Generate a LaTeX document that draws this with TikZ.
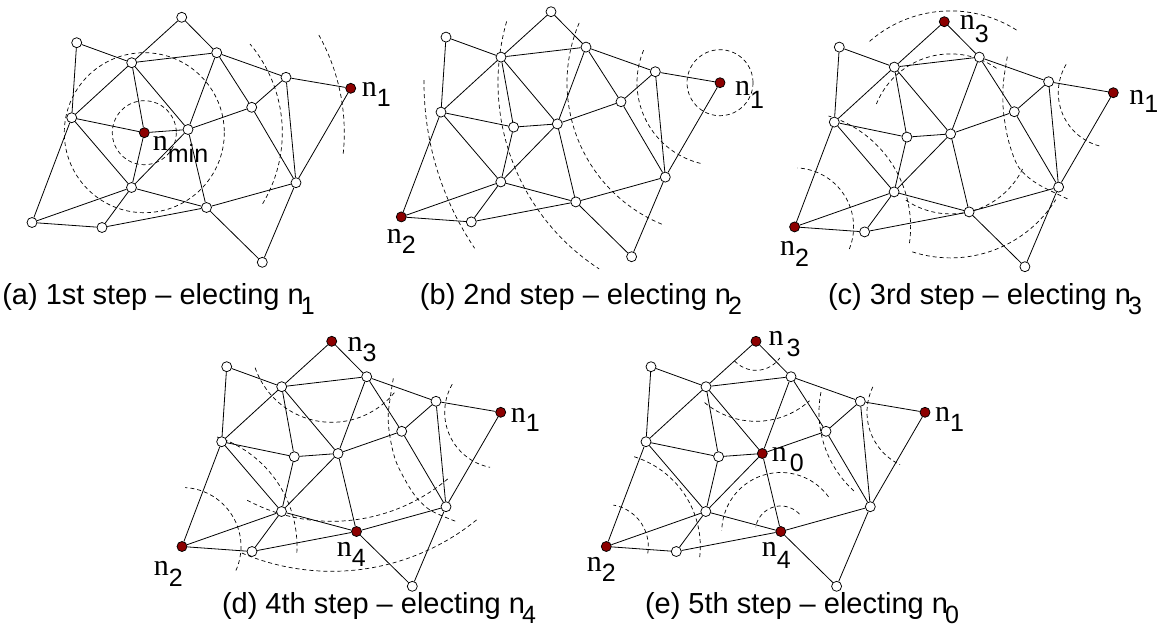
\documentclass[tikz,border=0pt]{standalone}
\usepackage{fontspec}
\newfontfamily\lserif{Liberation Serif}
\newfontfamily\lsans{Liberation Sans}
\definecolor{nred}{RGB}{140,0,0}
\tikzset{
 wn/.style={circle,draw=black,fill=white,line width=0.75pt,inner sep=0pt,minimum size=10pt},
 rn/.style={fill=nred,minimum size=10pt},
 edgeline/.style={line width=0.8pt},
 ring/.style={line width=0.7pt,dash pattern=on 4pt off 3pt},
 lab/.style={anchor=base west,inner sep=0pt,font={\fontsize{30}{30}\selectfont\lserif}},
 captxt/.style={anchor=base,inner sep=0pt,font={\fontsize{29}{29}\selectfont\lsans}},
 sA/.style={},sB/.style={},sC/.style={},sD/.style={},sE/.style={},sP/.style={},
 sF/.style={},sG/.style={},sQ/.style={},sH/.style={},sI/.style={},sJ/.style={},
 sK/.style={},sL/.style={},sM/.style={},sN/.style={}
}
\newcommand\gnodes[1]{%
 \node[wn,sA] (#1A) at (181.7,17.3) {};
 \node[wn,sB] (#1B) at (76.7,42.7) {};
 \node[wn,sC] (#1C) at (131.7,62.7) {};
 \node[wn,sD] (#1D) at (216.7,52.7) {};
 \node[wn,sE] (#1E) at (286,77.3) {};
 \node[wn,sP] (#1P) at (350.7,88.3) {};
 \node[wn,sF] (#1F) at (251.7,107.3) {};
 \node[wn,sG] (#1G) at (71.7,117.7) {};
 \node[wn,sQ] (#1Q) at (144.3,132.7) {};
 \node[wn,sH] (#1H) at (188,129.5) {};
 \node[wn,sI] (#1I) at (131.5,187.5) {};
 \node[wn,sJ] (#1J) at (296,182.7) {};
 \node[wn,sK] (#1K) at (206.5,207.5) {};
 \node[wn,sL] (#1L) at (32,222.5) {};
 \node[wn,sM] (#1M) at (102,227.5) {};
 \node[wn,sN] (#1N) at (262.3,262.3) {};
}
\newcommand\gedges[1]{%
 \draw[edgeline] (#1A)--(#1C) (#1A)--(#1D) (#1B)--(#1C) (#1B)--(#1G) (#1C)--(#1D)
  (#1C)--(#1G) (#1C)--(#1Q) (#1C)--(#1H) (#1D)--(#1H) (#1D)--(#1F) (#1D)--(#1E)
  (#1E)--(#1P) (#1E)--(#1F) (#1E)--(#1J) (#1P)--(#1J) (#1F)--(#1H) (#1F)--(#1J)
  (#1G)--(#1Q) (#1G)--(#1I) (#1G)--(#1L) (#1Q)--(#1H) (#1Q)--(#1I) (#1H)--(#1I)
  (#1H)--(#1K) (#1I)--(#1L) (#1I)--(#1M) (#1I)--(#1K) (#1L)--(#1M) (#1M)--(#1K)
  (#1K)--(#1J) (#1K)--(#1N) (#1J)--(#1N);
}
\newcommand\rarc[5]{\draw[ring] plot[domain=#4:#5,samples=60] ({#1+#3*cos(\x)},{#2-#3*sin(\x)});}
\newcommand\nlab[5]{\node[lab] (#1) at (#2,#3) {n\raisebox{-#5pt}{\fontsize{25}{25}\selectfont\lsans #4}};}
\newcommand\csub[1]{\kern-3pt\raisebox{-10pt}{\fontsize{25}{25}\selectfont #1}}
\begin{document}
\begin{tikzpicture}[x=1pt,y=-1pt]
\useasboundingbox (0,0) rectangle (1159,630);
% (a)
\begin{scope}[sQ/.style=rn,sP/.style=rn]
 \draw[ring] (144.3,132.7) circle[radius=32];
 \draw[ring] (144.3,132.7) circle[radius=80];
 \rarc{144.3}{132.7}{138}{-31}{40}
 \rarc{144.3}{132.7}{200}{-6}{30}
 \gnodes{a}
 \gedges{a}
 \nlab{al1}{361.7}{96.7}{1}{10}
 \node[lab] (almin) at (152.7,150) {n\raisebox{-12pt}{\fontsize{25}{25}\selectfont\lsans min}};
\end{scope}
% (b)
\begin{scope}[shift={(369.3,-5.6)},sP/.style=rn,sL/.style=rn]
 \draw[ring] (350.7,88.3) circle[radius=33];
 \rarc{350.7}{88.3}{83}{157}{257}
 \rarc{350.7}{88.3}{153}{157}{248.5}
 \rarc{350.7}{88.3}{222}{164}{237}
 \rarc{350.7}{88.3}{296}{179.5}{214}
 \gnodes{b}
 \gedges{b}
 \nlab{bl1}{365.7}{100.6}{1}{13}
 \nlab{bl2}{17.4}{249}{2}{10}
\end{scope}
% (c)
\begin{scope}[shift={(762.6,4.4)},sP/.style=rn,sL/.style=rn,sA/.style=rn]
 \rarc{188}{129.5}{80}{55}{158}
 \rarc{188}{129.5}{80}{236}{334}
 \rarc{188}{129.5}{123}{57.6}{132}
 \rarc{188}{129.5}{124}{252}{328}
 \rarc{350.7}{88.3}{55}{149}{258}
 \draw[ring] plot[smooth] coordinates {(244.7,52.3) (240.7,79) (240.7,105.6) (245.7,135.6) (255.7,162.3) (274,179) (307.4,195.6)};
 \rarc{32}{222.5}{59}{-22}{87}
 \rarc{32}{222.5}{116}{-8}{73}
 \gnodes{c}
 \gedges{c}
 \nlab{cl3}{197}{25}{3}{13}
 \nlab{cl1}{366.5}{100}{1}{8}
 \nlab{cl2}{17.4}{250.6}{2}{11.7}
\end{scope}
% (d)
\begin{scope}[shift={(150,324)},sP/.style=rn,sL/.style=rn,sA/.style=rn,sK/.style=rn]
 \rarc{181.7}{17.3}{81}{199}{321}
 \rarc{181.7}{17.3}{180}{242}{311}
 \rarc{181.7}{17.3}{230}{247}{309.5}
 \rarc{350.7}{88.3}{56}{150}{259}
 \draw[ring] plot[smooth] coordinates {(243.3,54.3) (238.3,89.3) (240,113) (246.7,139.3) (263.3,169.3) (280,186) (306.7,197.7)};
 \rarc{32}{222.5}{59}{-24}{87}
 \rarc{32}{222.5}{115}{-3}{73}
 \gnodes{d}
 \gedges{d}
 \nlab{dl3}{197.3}{27.7}{3}{10}
 \nlab{dl1}{360.7}{98.7}{1}{9}
 \nlab{dl2}{3.6}{251}{2}{11.7}
 \nlab{dl4}{186.7}{232.7}{4}{10}
\end{scope}
% (e)
\begin{scope}[shift={(574.3,324)},sP/.style=rn,sL/.style=rn,sA/.style=rn,sK/.style=rn,sH/.style=rn]
 \rarc{181.7}{17.3}{29}{222}{325}
 \rarc{181.7}{17.3}{80}{230}{312}
 \rarc{350.7}{88.3}{58}{154}{244.5}
 \rarc{350.7}{88.3}{106}{169}{228.5}
 \rarc{206.5}{207.5}{25.5}{43}{170}
 \rarc{206.5}{207.5}{59}{36}{179}
 \rarc{32}{222.5}{42}{-9.5}{80.4}
 \rarc{32}{222.5}{94}{-6.5}{74.4}
 \gnodes{e}
 \gedges{e}
 \nlab{el3}{194}{21}{\hspace{3pt}3}{11.7}
 \nlab{el1}{360.7}{97.7}{1}{10}
 \nlab{el0}{197.4}{137.7}{\hspace{3pt}0}{10}
 \nlab{el2}{12.4}{247.7}{2}{10}
 \nlab{el4}{187.4}{232}{4}{12}
\end{scope}
% captions
\node[captxt] (capa) at (158.5,304) {(a) 1st step – electing n\csub{1}};
\node[captxt] (capb) at (581,304) {(b) 2nd step – electing n\csub{2}};
\node[captxt] (capc) at (985,304) {(c) 3rd step – electing n\csub{3}};
\node[captxt] (capd) at (379,613) {(d) 4th step – electing n\csub{4}};
\node[captxt] (cape) at (802,613) {(e) 5th step – electing n\csub{0}};
\end{tikzpicture}
\end{document}
